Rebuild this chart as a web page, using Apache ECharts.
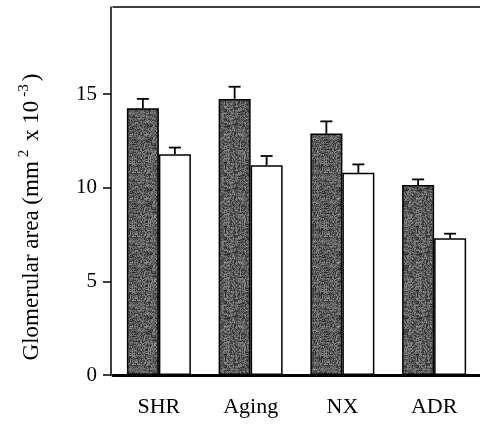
<!DOCTYPE html>
<html><head><meta charset="utf-8">
<script src="https://cdn.jsdelivr.net/npm/echarts@6/dist/echarts.min.js"></script>
<style>html,body{margin:0;padding:0;background:#fff;}#c{width:480px;height:424px;}</style>
</head><body><div id="c"></div>
<script>
const categories = ['SHR', 'Aging', 'NX', 'ADR'];
const darkValues = [14.25, 14.75, 12.9, 10.15];
const darkErrTop = [14.75, 15.4, 13.55, 10.45];
const whiteValues = [11.8, 11.2, 10.8, 7.3];
const whiteErrTop = [12.15, 11.7, 11.25, 7.55];
const yTicks = [0, 5, 10, 15];

// stippled grey texture for the dark bars (deterministic hash, styling only)
function hash(n) {
  n = (n ^ 61) ^ (n >>> 16);
  n = (n + (n << 3)) | 0;
  n = n ^ (n >>> 4);
  n = Math.imul(n, 0x27d4eb2d);
  n = n ^ (n >>> 15);
  return (n >>> 0) / 4294967296;
}
function makeTexture() {
  const W = 64, H = 64;
  const c = document.createElement('canvas');
  c.width = W; c.height = H;
  const ctx = c.getContext('2d');
  const img = ctx.createImageData(W, H);
  for (let y = 0; y < H; y++) {
    const band = (hash(y * 7919 + 3) - 0.5) * 20;
    for (let x = 0; x < W; x++) {
      const n = hash(y * W + x + 12345);
      const g = Math.max(0, Math.min(255, Math.round(45 + n * 95 + band)));
      const i = (y * W + x) * 4;
      img.data[i] = g; img.data[i + 1] = g; img.data[i + 2] = g; img.data[i + 3] = 255;
    }
  }
  ctx.putImageData(img, 0, 0);
  return c;
}

const FONT = 'Liberation Serif';
const chart = echarts.init(document.getElementById('c'));

function errRender(offset) {
  return function (params, api) {
    const i = api.value(0);
    const top = api.coord([i, api.value(1)]);
    const base = api.coord([i, api.value(2)]);
    const x = top[0] + offset;
    const style = { stroke: '#000', lineWidth: 1.8 };
    return {
      type: 'group',
      children: [
        { type: 'line', shape: { x1: x, y1: base[1], x2: x, y2: top[1] }, style },
        { type: 'line', shape: { x1: x - 6, y1: top[1], x2: x + 6, y2: top[1] }, style }
      ]
    };
  };
}

chart.setOption({
  animation: false,
  grid: { left: 113, top: 7, width: 375, height: 368 },
  xAxis: [{
    type: 'category',
    data: categories,
    axisLine: { lineStyle: { color: '#000', width: 3 } },
    axisTick: { alignWithLabel: true, length: 11, lineStyle: { color: '#000', width: 1.5 } },
    axisLabel: { color: '#000', fontFamily: FONT, fontSize: 22, margin: 21 }
  }, {
    type: 'category',
    position: 'top',
    data: categories,
    axisLine: { show: true, lineStyle: { color: '#000', width: 1.5 } },
    axisTick: { show: false },
    axisLabel: { show: false }
  }],
  yAxis: {
    type: 'value',
    min: 0, max: 19.66, interval: 5,
    offset: 2,
    splitLine: { show: false },
    axisLine: { show: true, lineStyle: { color: '#000', width: 1.5 } },
    axisTick: { show: true, length: 8, lineStyle: { color: '#000', width: 1.5 } },
    axisLabel: {
      color: '#000', fontFamily: FONT, fontSize: 21, margin: 14, showMaxLabel: false,
      formatter: v => (yTicks.indexOf(v) >= 0 ? String(v) : '')
    },
    name: '{a|Glomerular area (mm}{s|2}{a| x 10}{s|-3}{a|)}',
    nameLocation: 'middle',
    nameRotate: 90,
    nameGap: 68,
    nameTextStyle: {
      padding: [0, 52, 0, 0],
      rich: {
        a: { fontFamily: FONT, fontSize: 23, color: '#000', lineHeight: 26, verticalAlign: 'bottom' },
        s: { fontFamily: FONT, fontSize: 15, color: '#000', lineHeight: 14, verticalAlign: 'top', padding: [0, 3, 0, 4] }
      }
    }
  },
  series: [
    {
      type: 'bar', data: darkValues, barWidth: 32, barGap: '0%',
      itemStyle: { color: { image: makeTexture(), repeat: 'repeat' }, borderColor: '#000', borderWidth: 1.5 }
    },
    {
      type: 'bar', data: whiteValues, barWidth: 32,
      itemStyle: { color: '#fff', borderColor: '#000', borderWidth: 1.5 }
    },
    {
      type: 'custom', renderItem: errRender(-16),
      data: darkValues.map((v, i) => [i, darkErrTop[i], v]),
      encode: { x: 0, y: 1 }, z: 5
    },
    {
      type: 'custom', renderItem: errRender(16),
      data: whiteValues.map((v, i) => [i, whiteErrTop[i], v]),
      encode: { x: 0, y: 1 }, z: 5
    }
  ]
});
</script></body></html>
